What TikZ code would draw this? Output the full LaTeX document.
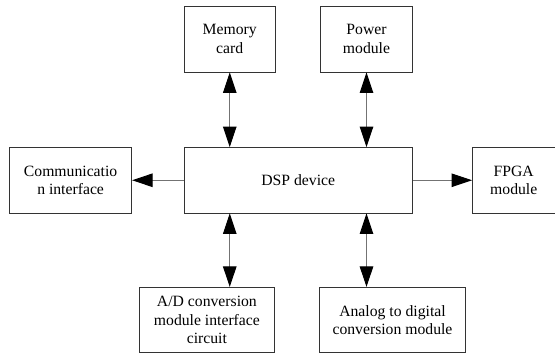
\documentclass[tikz,border=0pt]{standalone}
\usepackage{fontspec}
\setmainfont{Liberation Serif}
\newfontfamily\tnr{Liberation Serif}
\usetikzlibrary{arrows.meta}
\begin{document}
\begin{tikzpicture}[x=1pt,y=-1pt,
  box/.style={draw=black!80, line width=0.8pt, align=center, inner sep=0pt,
    font=\tnr\fontsize{15.7}{18.7}\selectfont},
  conn/.style={draw=black!55, line width=1pt},
  >={Triangle[length=20.5pt,width=13.5pt,color=black]}]
\useasboundingbox (0,0) rectangle (555,354);
\node[box, minimum width=91.5pt, minimum height=66pt] (mem) at (229.75,39) {Memory\\card};
\node[box, minimum width=92pt, minimum height=66pt] (pow) at (366.5,39) {Power\\module};
\node[box, minimum width=228.5pt, minimum height=65.5pt] (dsp) at (298.25,180.25) {DSP device};
\node[box, minimum width=122.2pt, minimum height=65.5pt] (comm) at (70.6,180.25) {Communicatio\\n interface};
\node[box, minimum width=82.5pt, minimum height=65.5pt] (fpga) at (513.75,180.25) {FPGA\\module};
\node[box, minimum width=135.2pt, minimum height=65.4pt] (ad) at (206.9,320) {A/D conversion\\module interface\\circuit};
\node[box, minimum width=146pt, minimum height=65.4pt] (an) at (392.5,320) {Analog to digital\\conversion module};
\draw[conn, <->] (mem.south) -- (mem.south |- dsp.north);
\draw[conn, <->] (pow.south) -- (pow.south |- dsp.north);
\draw[conn, <->] (mem.south |- dsp.south) -- (mem.south |- ad.north);
\draw[conn, <->] (pow.south |- dsp.south) -- (pow.south |- an.north);
\draw[conn, ->] (dsp.west) -- (comm.east);
\draw[conn, ->] (dsp.east) -- (fpga.west);
\end{tikzpicture}
\end{document}
